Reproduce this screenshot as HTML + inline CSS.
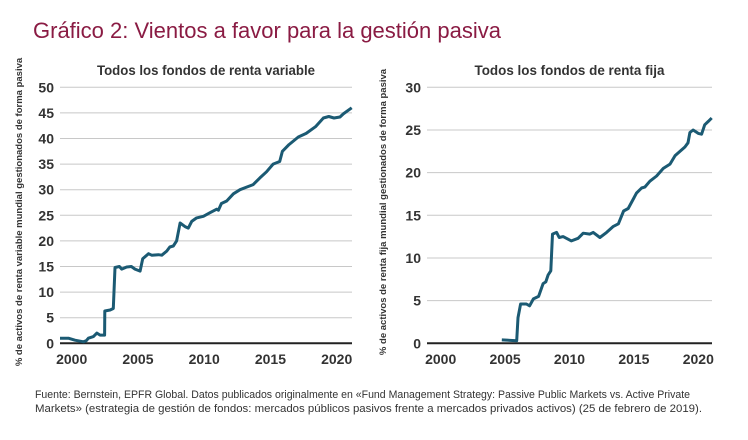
<!DOCTYPE html>
<html><head><meta charset="utf-8"><style>
body{margin:0;background:#fff;width:748px;height:435px;overflow:hidden;font-family:"Liberation Sans",sans-serif}
svg text{font-family:"Liberation Sans",sans-serif}
</style></head><body>
<svg id="c" width="748" height="435">
<text x="33" y="38" font-size="22" fill="#8a1b43">Gráfico 2: Vientos a favor para la gestión pasiva</text>
<text x="35" y="398" font-size="11" fill="#333" textLength="655" lengthAdjust="spacingAndGlyphs">Fuente: Bernstein, EPFR Global. Datos publicados originalmente en «Fund Management Strategy: Passive Public Markets vs. Active Private</text>
<text x="35" y="412" font-size="11" fill="#333" textLength="667" lengthAdjust="spacingAndGlyphs">Markets» (estrategia de gestión de fondos: mercados públicos pasivos frente a mercados privados activos) (25 de febrero de 2019).</text>
</svg>
<script>
const eqYears=[1999.12,1999.75,2000.25,2000.9,2001.1,2001.26,2001.64,2001.9,2002.14,2002.48,2002.5,2002.9,2003.14,2003.27,2003.6,2003.77,2004.15,2004.5,2004.78,2005.16,2005.36,2005.8,2006.04,2006.54,2006.8,2007.17,2007.4,2007.67,2007.92,2008.18,2008.55,2008.8,2009.06,2009.43,2009.94,2010.44,2010.94,2011.07,2011.3,2011.7,2012.2,2012.7,2013.2,2013.7,2014.2,2014.7,2015.2,2015.7,2015.9,2016.4,2017.1,2017.7,2018.4,2019,2019.4,2019.8,2020.25,2020.5,2021.13];
const eqValues=[1,1,0.6,0.3,0.5,1,1.3,2,1.6,1.6,6.3,6.5,6.8,14.8,15,14.5,14.9,15,14.5,14.1,16.5,17.5,17.2,17.3,17.2,18,18.8,19,20,23.5,22.8,22.5,23.8,24.5,24.8,25.5,26.2,26,27.3,27.8,29.2,30,30.5,31,32.3,33.5,35,35.5,37.5,38.8,40.3,41,42.3,44,44.3,44,44.2,44.8,46];
const fiYears=[2004.74,2005.9,2006.0,2006.2,2006.65,2006.9,2007.2,2007.6,2007.95,2008.16,2008.34,2008.55,2008.68,2009,2009.2,2009.5,2010.15,2010.67,2011.06,2011.58,2011.84,2012.36,2012.88,2013.4,2013.8,2014.2,2014.56,2015.2,2015.6,2015.85,2016.24,2016.76,2017.28,2017.8,2018.2,2018.96,2019.2,2019.35,2019.6,2020,2020.26,2020.5,2020.78,2021.04];
const fiValues=[0.4,0.3,3,4.6,4.6,4.4,5.2,5.5,7,7.2,8,8.5,12.8,13,12.4,12.5,12,12.3,12.9,12.8,13,12.4,13,13.7,14,15.5,15.8,17.6,18.2,18.3,19,19.6,20.5,21,22,23,23.5,24.7,25,24.6,24.5,25.6,26,26.4];
const eqTicks=[0,5,10,15,20,25,30,35,40,45,50];
const fiTicks=[0,5,10,15,20,25,30];
const xTicks=[2000,2005,2010,2015,2020];
const NS="http://www.w3.org/2000/svg",svg=document.getElementById('c');
function mk(t,a,txt){const e=document.createElementNS(NS,t);for(const k in a)e.setAttribute(k,a[k]);if(txt!==undefined)e.textContent=txt;svg.appendChild(e);return e;}
function panel(o){
 const X=y=>o.x2000+(y-2000)*o.px, Y=v=>343.3-v/o.ymax*256;
 const t=mk('text',{x:(o.x0+o.x1)/2,y:75,'font-size':14,'font-weight':'bold','text-anchor':'middle',fill:'#333',textLength:o.tl,lengthAdjust:'spacingAndGlyphs'},o.title);
 
 
 o.ticks.forEach(v=>{
  const l=mk('line',{x1:o.x0,x2:o.x1,y1:Y(v),y2:Y(v),stroke:v===0?'#222':'#c8c8c8','stroke-width':v===0?2:1});
  
  
  const tx=mk('text',{x:o.x0-6,y:Y(v)+5,'font-size':14,'font-weight':'bold','text-anchor':'end',fill:'#333'},String(v));
  
  
 });
 xTicks.forEach(y=>{
  const tx=mk('text',{x:X(y),y:364,'font-size':14,'font-weight':'bold','text-anchor':'middle',fill:'#333'},String(y));
  
  
 });
 const yl=mk('text',{x:0,y:0,'font-size':9.5,'font-weight':'bold','text-anchor':'middle',fill:'#333',transform:`translate(${o.lx},${o.ly}) rotate(-90)`},o.ylabel);
 
 
 const p=mk('polyline',{points:o.xs.map((y,i)=>X(y).toFixed(1)+','+Y(o.vs[i]).toFixed(1)).join(' '),fill:'none',stroke:'#1b5a73','stroke-width':3,'stroke-linejoin':'round'});
 
 
}
panel({id:'equity',x0:60,x1:352,x2000:71.7,px:13.25,ymax:50,ticks:eqTicks,xs:eqYears,vs:eqValues,title:'Todos los fondos de renta variable',tl:218,lx:22,ly:212,ylabel:'% de activos de renta variable mundial gestionados de forma pasiva'});
panel({id:'fixed-income',x0:427,x1:712,x2000:440.7,px:12.88,ymax:30,ticks:fiTicks,xs:fiYears,vs:fiValues,title:'Todos los fondos de renta fija',tl:190,lx:386,ly:212,ylabel:'% de activos de renta fija mundial gestionados de forma pasiva'});
</script>
</body></html>
